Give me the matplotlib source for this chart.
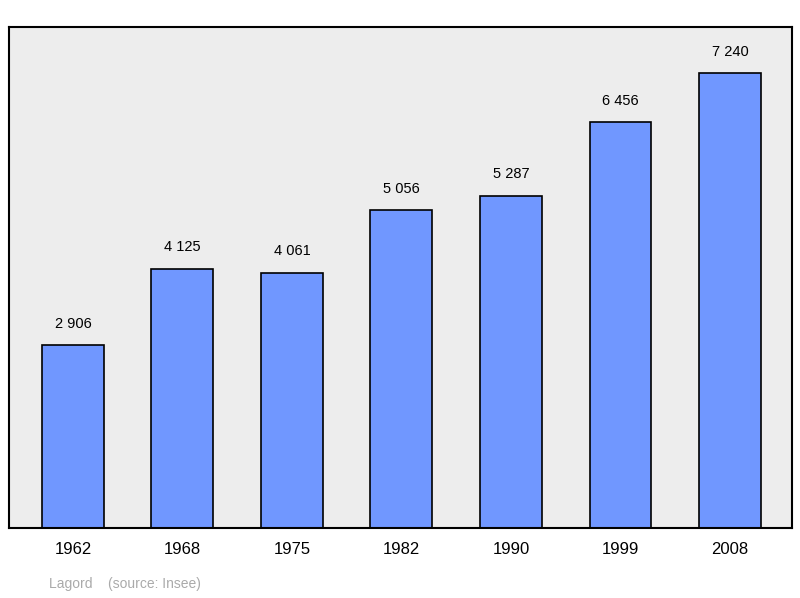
import matplotlib
matplotlib.use("Agg")
import matplotlib.pyplot as plt

years = ["1962", "1968", "1975", "1982", "1990", "1999", "2008"]
population = [2906, 4125, 4061, 5056, 5287, 6456, 7240]
value_labels = ["2 906", "4 125", "4 061", "5 056", "5 287", "6 456", "7 240"]

fig = plt.figure(figsize=(8, 5.98), dpi=100)
ax = fig.add_axes([9/800, 70/598, 783/800, 501/598])
ax.set_facecolor("#ededed")
x = list(range(len(years)))
ax.bar(x, population, width=0.566, color="#7097ff", edgecolor="black", linewidth=1.2, zorder=2)
for xi, v, lab in zip(x, population, value_labels):
    ax.text(xi, v + 230, lab, ha="center", va="bottom", fontsize=10.5, family="Liberation Sans")
ax.set_xlim(-0.584, 6.566)
ax.set_ylim(0, 7972)
ax.set_yticks([])
ax.set_xticks(x)
ax.set_xticklabels(years, fontsize=12, family="Liberation Sans")
ax.tick_params(axis="x", length=0, pad=10)
for s in ax.spines.values():
    s.set_linewidth(1.5)
fig.text(49/800, 1 - 584/598, "Lagord    (source: Insee)", color="#aaaaaa", fontsize=10,
         family="Liberation Sans", va="center")
fig.savefig("out.png", dpi=100)
